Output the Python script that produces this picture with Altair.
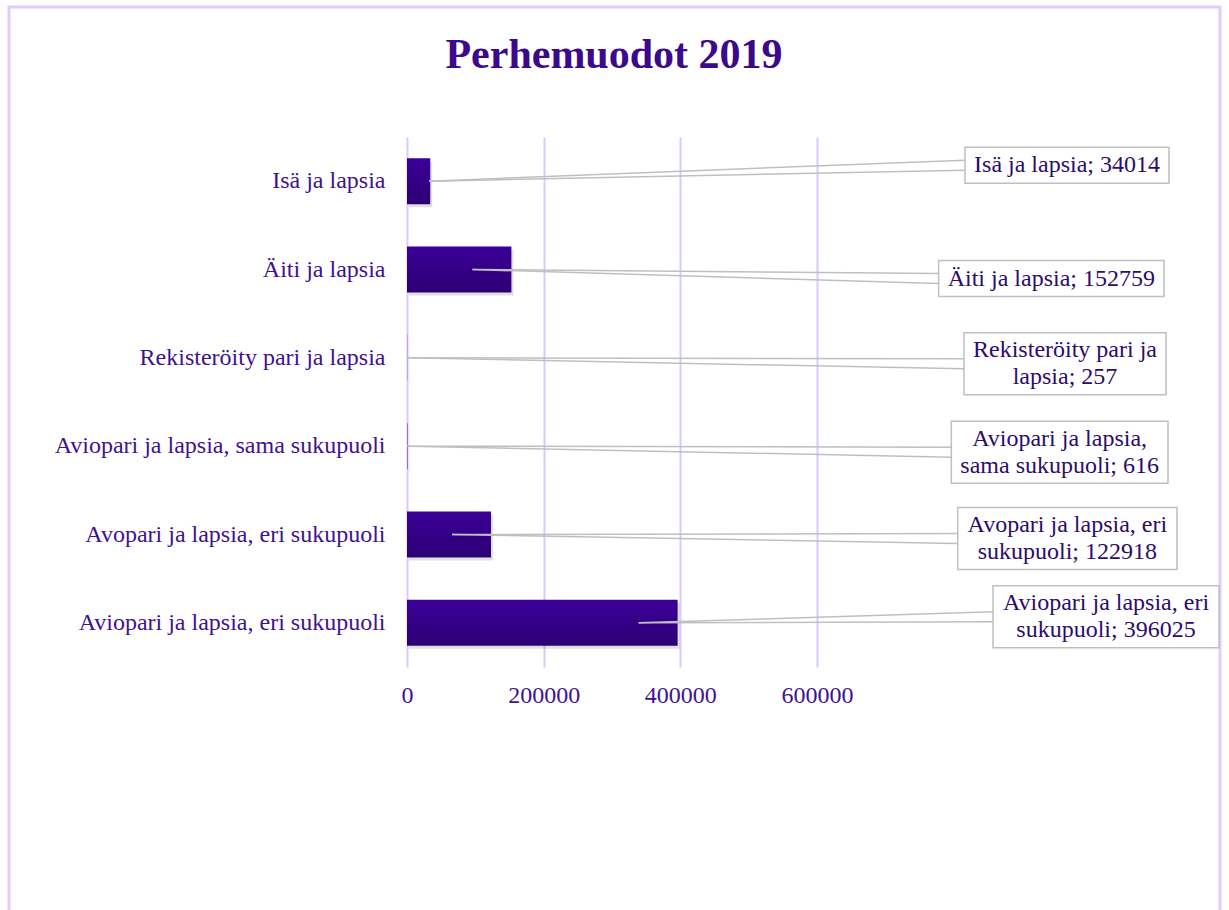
import textwrap
import altair as alt
import pandas as pd

# ---------------- data ----------------
categories = [
    "Isä ja lapsia",
    "Äiti ja lapsia",
    "Rekisteröity pari ja lapsia",
    "Aviopari ja lapsia, sama sukupuoli",
    "Avopari ja lapsia, eri sukupuoli",
    "Aviopari ja lapsia, eri sukupuoli",
]
values = [34014, 152759, 257, 616, 122918, 396025]
x_ticks = [0, 200000, 400000, 600000]
chart_title = "Perhemuodot 2019"

# ---------------- layout / style ----------------
W, H = 410, 530          # plot area
XMAX = 600000
PAD = {"left": 407, "top": 137, "right": 412, "bottom": 243}
label_right_px = [762, 757, 759, 761, 770, 812]   # right edge of callout boxes
label_dy_px = [-16, 9, 6, 6, 4, -6]               # callout box shift from bar centre
FONT = "Liberation Serif"
FS = 24
LINE_H = 27
TITLE_COLOR = "#3B0A8C"
AXIS_COLOR = "#3F1291"
LABEL_COLOR = "#2D0C6A"
GRID_COLOR = "#DCC8FA"
CALLOUT_GRAY = "#BFBFBF"

# approximate Times/Liberation Serif advance widths (em/1000) for box sizing
CW = {" ": 250, ";": 278, ",": 250, "A": 722, "I": 333, "R": 667, "Ä": 722,
      "a": 444, "ä": 444, "e": 444, "i": 278, "j": 278, "k": 500, "l": 278,
      "m": 778, "o": 500, "ö": 500, "p": 500, "r": 333, "s": 389, "t": 278,
      "u": 500, "v": 500, "y": 500}


def text_w(s):
    return sum(CW.get(ch, 500) for ch in s) * FS / 1000


step = H / len(categories)
rows = []
for i, (c, v) in enumerate(zip(categories, values)):
    text = textwrap.fill(f"{c}; {v}", 23)
    lines = text.split("\n")
    bw = max(text_w(s) for s in lines) + 18
    bh = 36 if len(lines) == 1 else 62
    right = label_right_px[i]
    yc = (i + 0.5) * step
    bc = yc + label_dy_px[i]
    a = v - 57000 if v > 57000 else 0.95 * v
    rows.append(dict(cat=c, value=v, label=text,
                     box_left=right - bw, box_right=right,
                     box_top=bc - bh / 2, box_bot=bc + bh / 2,
                     text_x=right - bw / 2, text_y=bc - (len(lines) - 1) * LINE_H / 2,
                     anchor_x=a / XMAX * W, anchor_y=yc,
                     end_y1=bc - 5, end_y2=bc + 5))
df = pd.DataFrame(rows)

y_enc = alt.Y(
    "cat:N", sort=categories,
    scale=alt.Scale(paddingInner=0.48, paddingOuter=0.24),
    axis=alt.Axis(title=None, labelFont=FONT, labelFontSize=FS, labelColor=AXIS_COLOR,
                  labelPadding=22, ticks=False, domain=False, grid=False, labelLimit=500),
)
x_enc = alt.X(
    "value:Q", scale=alt.Scale(domain=[0, XMAX], nice=False, zero=True),
    axis=alt.Axis(title=None, values=x_ticks, format="d", labelFont=FONT, labelFontSize=FS,
                  labelColor=AXIS_COLOR, labelPadding=16, labelFlush=False, ticks=False,
                  domain=False, grid=True, gridColor=GRID_COLOR, gridWidth=2),
)

gradient = alt.LinearGradient(
    gradient="linear",
    stops=[alt.GradientStop(color="#3B0099", offset=0),
           alt.GradientStop(color="#2C0074", offset=1)],
    x1=0, x2=0, y1=0, y2=1,
)

base = alt.Chart(df)

shadow = base.mark_bar(color="#000000", opacity=0.12, xOffset=2, yOffset=3).encode(x=x_enc, y=y_enc)
bars = base.mark_bar(color=gradient).encode(x=x_enc, y=y_enc)


def px(f):
    return alt.X(f + ":Q", scale=None, axis=None)


def py(f):
    return alt.Y(f + ":Q", scale=None, axis=None)


lead1 = base.mark_rule(color=CALLOUT_GRAY, strokeWidth=1.5).encode(
    x=px("anchor_x"), x2=alt.X2("box_left:Q"), y=py("anchor_y"), y2=alt.Y2("end_y1:Q"))
lead2 = base.mark_rule(color=CALLOUT_GRAY, strokeWidth=1.5).encode(
    x=px("anchor_x"), x2=alt.X2("box_left:Q"), y=py("anchor_y"), y2=alt.Y2("end_y2:Q"))
boxes = base.mark_rect(fill="white", stroke=CALLOUT_GRAY, strokeWidth=1.5).encode(
    x=px("box_left"), x2=alt.X2("box_right:Q"), y=py("box_top"), y2=alt.Y2("box_bot:Q"))
texts = base.mark_text(font=FONT, fontSize=FS, color=LABEL_COLOR, lineBreak="\n",
                       lineHeight=LINE_H, align="center", baseline="middle").encode(
    x=px("text_x"), y=py("text_y"), text="label:N")

title_layer = alt.Chart(alt.Data(values=[{"t": chart_title}])).mark_text(
    font=FONT, fontSize=42, fontWeight="bold", color=TITLE_COLOR,
    align="center", baseline="alphabetic",
).encode(x=alt.value(W / 2 + 2), y=alt.value(68 - PAD["top"]), text="t:N")

border = alt.Chart(alt.Data(values=[{"a": 1}])).mark_rect(
    fillOpacity=0, stroke="#E0CCFF", strokeWidth=3
).encode(x=alt.value(-398), x2=alt.value(813), y=alt.value(-130), y2=alt.value(800))

chart = alt.layer(border, title_layer, shadow, bars, lead1, lead2, boxes, texts).properties(
    width=W, height=H,
    autosize=alt.AutoSizeParams(type="none"),
    padding=PAD,
    background="white",
).configure_view(strokeWidth=0)

chart.save("out.html", embed_options={"renderer": "svg", "actions": False})
